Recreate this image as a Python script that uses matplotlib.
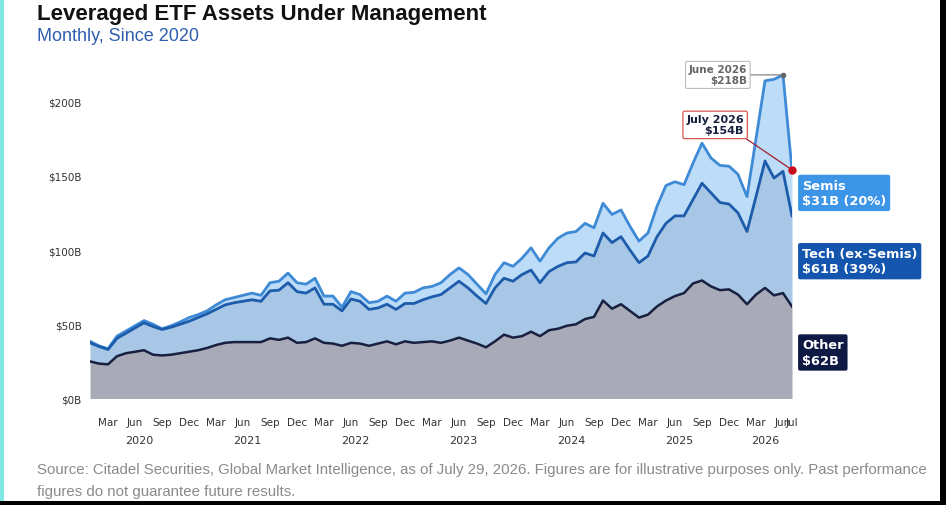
import matplotlib
matplotlib.use('Agg')
import matplotlib.pyplot as plt
from matplotlib.patches import Rectangle
import numpy as np

# stack edges, monthly Jan 2020 .. Jul 2026 ($B)
other_aum = [25, 23.5, 23, 28.5, 30.5, 31.5, 32.5, 29.5, 29, 29.5, 30.5, 31.5,
             32.5, 34, 36, 37.5, 38, 38, 38, 38, 40.5, 39.5, 41, 37.5,
             38, 40.5, 37.5, 37, 35.5, 37.5, 37, 35.5, 37, 38.5, 36.5, 38.5,
             37.5, 38, 38.5, 37.5, 39, 41, 39, 37, 34.5, 38.5, 43, 41,
             42, 45, 42, 46, 47, 49, 50, 53.5, 55, 66, 60.5, 63.5,
             59, 54.5, 56.5, 62, 66, 69, 71, 77.5, 79.5, 75.5, 73, 73.5,
             70, 63.5, 70, 74.5, 69.5, 71, 62]
ex_semis_top = [37.5, 35, 33, 40.5, 44, 47.5, 51, 48.5, 46.5, 48, 50, 52,
                54.5, 57, 60, 63, 64.5, 65.5, 66.5, 65.5, 72.5, 73, 78, 72,
                71, 74.5, 63.5, 63.5, 59, 67, 65.5, 60, 61, 63.5, 60, 64,
                64, 66.5, 68.5, 70, 74.5, 79, 74.5, 69, 64, 74.5, 81, 79,
                83.5, 86.5, 78, 85.5, 89, 91.5, 92, 98, 96, 111.5, 105, 109,
                100, 91.5, 96, 109, 118, 123, 123, 134, 145, 138.5, 132, 131,
                125, 112.5, 136, 160, 148.5, 153, 123]
total_aum = [38.5, 35.5, 33.5, 42, 45.5, 49, 52.5, 50, 47, 49, 51.5, 54.5,
             56.5, 59, 63, 66.5, 68, 69.5, 71, 69.5, 78, 79, 84.5, 78,
             77, 81, 69, 69, 61.5, 72, 70, 64.5, 65.5, 69, 65.5, 71,
             71.5, 74.5, 75.5, 78, 83.5, 88, 83.5, 77, 70.5, 83.5, 91.5, 89,
             94.5, 101.5, 92.5, 101.5, 108, 111.5, 112.5, 118, 115, 131.5, 124, 127,
             116, 106, 111.5, 129.5, 143.5, 146, 144, 158.5, 172, 162, 157, 156.5,
             151, 136, 175, 214, 215, 218, 154]

month_names = ['Jan', 'Feb', 'Mar', 'Apr', 'May', 'Jun',
               'Jul', 'Aug', 'Sep', 'Oct', 'Nov', 'Dec']
years = [2020, 2021, 2022, 2023, 2024, 2025, 2026]
yticks = [0, 50, 100, 150, 200]
ytick_labels = ['$0B', '$50B', '$100B', '$150B', '$200B']

band_labels = ['Semis\n$31B (20%)', 'Tech (ex-Semis)\n$61B (39%)', 'Other\n$62B']

C_OTHER_FILL = '#a9aab8'
C_OTHER_LINE = '#18203f'
C_TECH_FILL = '#a8c6e6'
C_TECH_LINE = '#1d5bab'
C_SEMI_FILL = '#bcdcf7'
C_SEMI_LINE = '#3e8ad6'


def main():
    n = len(total_aum)
    x = np.arange(n)
    other = np.asarray(other_aum)
    tech = np.asarray(ex_semis_top)
    total = np.asarray(total_aum)

    fig = plt.figure(figsize=(9.46, 5.06), dpi=100)
    W, H = 946, 506
    ax = fig.add_axes([90 / W, 106.5 / H, 702 / W, 334 / H])

    ax.fill_between(x, tech, total, color=C_SEMI_FILL, lw=0)
    ax.fill_between(x, other, tech, color=C_TECH_FILL, lw=0)
    ax.fill_between(x, 0, other, color=C_OTHER_FILL, lw=0)
    ax.plot(x, total, color=C_SEMI_LINE, lw=2)
    ax.plot(x, tech, color=C_TECH_LINE, lw=2)
    ax.plot(x, other, color=C_OTHER_LINE, lw=1.8)

    ax.set_xlim(0, n - 1)
    ax.set_ylim(0, 225)
    for s in ax.spines.values():
        s.set_visible(False)

    ax.set_yticks(yticks)
    ax.set_yticklabels(ytick_labels)
    ax.tick_params(axis='y', length=0, pad=6, labelsize=7.5, labelcolor='#333333')

    tick_pos, tick_lab = [], []
    for i in range(n):
        m = i % 12
        if m in (2, 5, 8, 11):
            tick_pos.append(i)
            tick_lab.append(month_names[m])
    tick_pos.append(n - 1)
    tick_lab.append(month_names[(n - 1) % 12])
    ax.set_xticks(tick_pos)
    ax.set_xticklabels(tick_lab)
    ax.tick_params(axis='x', length=0, pad=13, labelsize=7.5, labelcolor='#333333')

    for k, yr in enumerate(years):
        idx = [i for i in range(n) if i // 12 == k]
        ax.annotate(str(yr), xy=(np.mean(idx), 0), xycoords=('data', 'axes fraction'),
                    xytext=(0, -42), textcoords='offset pixels',
                    ha='center', va='center', fontsize=8, color='#333333')

    # peak and last-value callouts
    ipk = int(np.argmax(total))
    ax.plot([ipk], [total[ipk]], 'o', color='#666666', ms=3, zorder=5)
    ax.annotate(f'June 2026\n${total[ipk]:.0f}B', xy=(ipk, total[ipk]),
                xytext=(-36, 0), textcoords='offset pixels',
                ha='right', va='center', fontsize=7.5, fontweight='bold',
                color='#666666', linespacing=1.1,
                bbox=dict(boxstyle='round,pad=0.3,rounding_size=0.15', fc='white',
                          ec='#bbbbbb', lw=0.8),
                arrowprops=dict(arrowstyle='-', color='#777777', lw=0.8,
                                shrinkA=0, shrinkB=2))
    ax.plot([n - 1], [total[-1]], 'o', color='#cc0a1e', ms=5, zorder=6, clip_on=False)
    ax.annotate(f'July 2026\n${total[-1]:.0f}B', xy=(n - 1, total[-1]),
                xytext=(-48, 45), textcoords='offset pixels',
                ha='right', va='center', fontsize=8, fontweight='bold',
                color='#18203f', linespacing=1.1,
                bbox=dict(boxstyle='round,pad=0.3,rounding_size=0.15', fc='white',
                          ec='#d9534f', lw=0.9),
                arrowprops=dict(arrowstyle='-', color='#a0202e', lw=0.9,
                                shrinkA=0, shrinkB=2, relpos=(0.95, 0.0)))

    # band labels at right
    mids = [(tech[-1] + total[-1]) / 2, (other[-1] + tech[-1]) / 2, other[-1] / 2]
    box_colors = ['#3d95e8', '#1456ae', '#0f1a44']
    for lab, ym, bc in zip(band_labels, mids, box_colors):
        ax.annotate(lab, xy=(1, ym), xycoords=('axes fraction', 'data'),
                    xytext=(10, 0), textcoords='offset pixels',
                    ha='left', va='center', fontsize=9.4, fontweight='bold',
                    color='white', linespacing=1.25, annotation_clip=False,
                    bbox=dict(boxstyle='round,pad=0.3,rounding_size=0.15',
                              fc=bc, ec='none'))

    fig.text(37 / W, 1 - 4 / H, 'Leveraged ETF Assets Under Management',
             ha='left', va='top', fontsize=16, fontweight='bold',
             family='Liberation Sans', color='#111111')
    fig.text(37 / W, 1 - 28 / H, 'Monthly, Since 2020',
             ha='left', va='top', fontsize=13, family='Liberation Sans',
             color='#2f5fae')
    fig.text(37 / W, 1 - 470 / H,
             'Source: Citadel Securities, Global Market Intelligence, as of July 29, 2026. '
             'Figures are for illustrative purposes only. Past performance',
             ha='left', va='center', fontsize=10.85, family='Liberation Sans',
             color='#8a8a8a')
    fig.text(37 / W, 1 - 492 / H, 'figures do not guarantee future results.',
             ha='left', va='center', fontsize=10.85, family='Liberation Sans',
             color='#8a8a8a')

    # screenshot frame strips
    fig.patches.append(Rectangle((0, 0), 4 / W, 1, transform=fig.transFigure,
                                 fc='#7de8e4', ec='none'))
    fig.patches.append(Rectangle((940 / W, 0), 6 / W, 1, transform=fig.transFigure,
                                 fc='black', ec='none'))
    fig.patches.append(Rectangle((0, 0), 1, 4 / H, transform=fig.transFigure,
                                 fc='black', ec='none'))

    fig.savefig('out.png', dpi=100)
    plt.close(fig)


if __name__ == '__main__':
    main()
